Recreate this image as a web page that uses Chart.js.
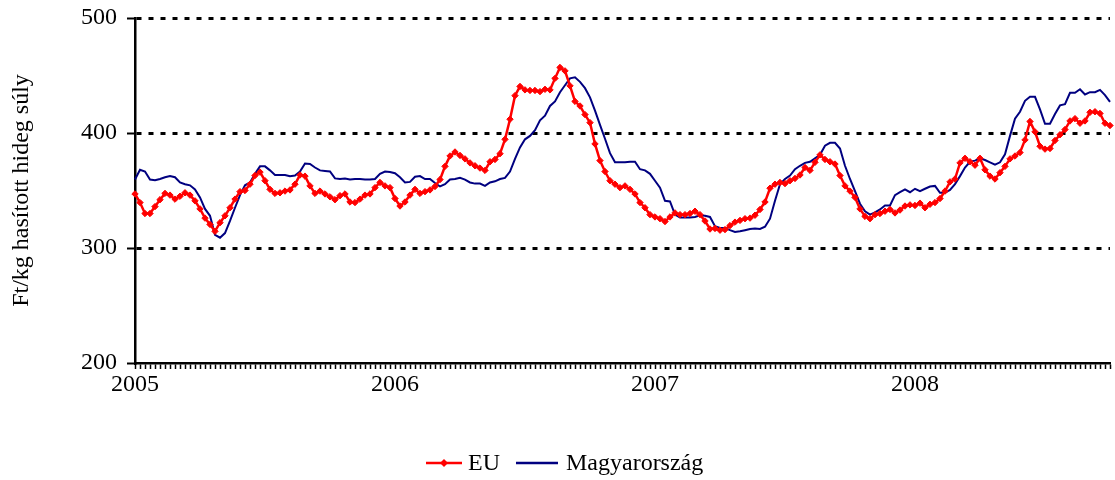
<!DOCTYPE html>
<html>
<head>
<meta charset="utf-8">
<script src="https://cdn.jsdelivr.net/npm/chart.js@4/dist/chart.umd.min.js"></script>
<style>
  html, body { margin: 0; padding: 0; background: #fff; }
  #wrap { width: 1115px; height: 480px; overflow: hidden; }
</style>
</head>
<body>
<div id="wrap"><canvas id="c" width="1115" height="480"></canvas></div>
<script>
const yearLabels = ['2005', '2006', '2007', '2008'];
const weeksPerYear = 52;
const weekCount = 196;
const yTicks = [200, 300, 400, 500];
const yTitle = 'Ft/kg hasított hideg súly';
const seriesNames = ['EU', 'Magyarország'];

const euValues = [
  347, 339.5, 330, 330, 336, 342, 347.5, 346, 342.5, 345,
  348, 346, 341, 334, 326, 320.5, 314.5, 322, 328, 335,
  342.5, 349, 350, 355.5, 363, 366, 358.5, 351, 347.5, 348,
  349.5, 350.5, 355.5, 363.5, 362.5, 354, 347.5, 349.5, 347, 344.5,
  342, 345.5, 347, 340, 339.5, 342.5, 346, 347, 352.5, 357,
  354, 352.5, 343, 336.5, 340, 346, 351, 347.5, 349, 350.5,
  353.5, 359.5, 371, 380, 383.5, 380.5, 377.5, 374, 371.5, 369.5,
  367.5, 375, 377, 382, 394.5, 412, 432.5, 440.5, 437.5, 437,
  437, 436, 438, 437.5, 447.5, 457, 454, 441, 427.5, 423.5,
  416, 409, 390.5, 376, 366.5, 358.5, 355.5, 352.5, 354, 351,
  347, 339.5, 335, 329, 327, 325.5, 323, 327, 330.5, 329,
  329, 330, 332, 329, 323.5, 316.5, 317, 315.5, 316, 319.5,
  322.5, 324, 325.5, 326, 328.5, 333.5, 340, 352, 355.5, 357,
  356, 358.5, 360.5, 363.5, 370, 367.5, 374.5, 381, 377, 375,
  373, 363, 354, 349.5, 344, 334, 327.5, 325.5, 329, 330,
  332, 333.5, 330.5, 333, 336.5, 337.5, 337, 339, 335, 338,
  339.5, 343, 349.5, 357.5, 360, 374, 378, 375, 372, 378,
  368, 362.5, 360, 365.5, 371, 377.5, 380, 383, 394, 410,
  401, 388.5, 386, 386.5, 393.5, 398.5, 403, 410.5, 412.5, 408.5,
  410.5, 418, 418.5, 417, 408.5, 406.5
];

const huValues = [
  359.5, 368, 366.5, 359.5, 359, 360, 361.5, 362.5, 361.5, 357,
  355.5, 354.5, 351, 344, 334, 328, 311.5, 309, 313, 323.5,
  335, 346, 354.5, 357, 364.5, 371, 371, 367.5, 363.5, 363.5,
  363.5, 362.5, 363, 366.5, 373.5, 373, 370, 367.5, 367, 366.5,
  360.5, 360, 360.5, 359.5, 360, 360, 359.5, 359.5, 360, 364.5,
  366.5, 366, 365, 361.5, 357, 357.5, 362, 362.5, 360, 360,
  356.5, 353.5, 355.5, 359.5, 360, 361, 359.5, 357, 356, 356,
  354, 357, 358, 360, 361, 366.5, 377.5, 387.5, 394.5, 397.5,
  402.5, 411, 415, 423.5, 427.5, 435.5, 441.5, 447.5, 448.5, 444.5,
  439, 431, 419.5, 407, 395, 382.5, 374.5, 374.5, 374.5, 375,
  375, 368.5, 367.5, 364.5, 358.5, 352.5, 341, 340.5, 329, 326.5,
  326.5, 326.5, 327, 328.5, 328, 327, 319, 317.5, 317.5, 315.5,
  314, 314.5, 315.5, 316.5, 317, 316.5, 318.5, 325.5, 341, 355.5,
  360, 363, 368.5, 371.5, 374, 375, 378, 381, 389, 391.5,
  391.5, 386.5, 371.5, 360, 349.5, 338.5, 332, 329, 331, 333.5,
  337, 337, 346, 348.5, 351, 348.5, 351.5, 349.5, 351.5, 353.5,
  354, 348, 348, 350.5, 355.5, 362.5, 370, 375, 376, 378,
  376.5, 374.5, 372.5, 374.5, 381.5, 397.5, 412.5, 418.5, 428, 431.5,
  431.5, 420.5, 408, 408, 416.5, 424, 425, 435, 435, 438,
  433.5, 435.5, 435.5, 437.5, 433, 427
];

const categories = [];
for (let i = 0; i < weekCount; i++) {
  const y = yearLabels[Math.floor(i / weeksPerYear)];
  const w = (i % weeksPerYear) + 1;
  categories.push(y + '-' + String(w).padStart(2, '0'));
}

const FONT = '"Liberation Serif", "Times New Roman", serif';
const RED = '#FF0000';
const NAVY = '#000080';

const excelLegend = {
  id: 'excelLegend',
  afterDraw(chart) {
    const ctx = chart.ctx;
    const ds = chart.data.datasets;
    ctx.save();
    ctx.font = '24px ' + FONT;
    ctx.textBaseline = 'middle';
    ctx.textAlign = 'left';
    const cy = 463;
    let x = 426;
    ctx.strokeStyle = ds[0].borderColor;
    ctx.lineWidth = 2.5;
    ctx.beginPath(); ctx.moveTo(x, cy); ctx.lineTo(x + 36, cy); ctx.stroke();
    ctx.fillStyle = ds[0].borderColor;
    ctx.beginPath();
    ctx.moveTo(x + 18, cy - 4); ctx.lineTo(x + 22, cy); ctx.lineTo(x + 18, cy + 4); ctx.lineTo(x + 14, cy);
    ctx.closePath(); ctx.fill();
    x += 42;
    ctx.fillStyle = '#000';
    ctx.fillText(ds[0].label, x, cy + 1);
    x += ctx.measureText(ds[0].label).width + 16;
    ctx.strokeStyle = ds[1].borderColor;
    ctx.lineWidth = 2.5;
    ctx.beginPath(); ctx.moveTo(x, cy); ctx.lineTo(x + 42, cy); ctx.stroke();
    x += 50;
    ctx.fillStyle = '#000';
    ctx.fillText(ds[1].label, x, cy + 1);
    ctx.restore();
  }
};

new Chart(document.getElementById('c'), {
  type: 'line',
  data: {
    labels: categories,
    datasets: [
      {
        label: seriesNames[0],
        data: euValues,
        borderColor: RED,
        backgroundColor: RED,
        borderWidth: 2.5,
        pointStyle: 'rectRot',
        pointRadius: 3.2,
        pointBackgroundColor: RED,
        pointBorderColor: RED,
        pointBorderWidth: 1,
        tension: 0,
        fill: false
      },
      {
        label: seriesNames[1],
        data: huValues,
        borderColor: NAVY,
        backgroundColor: NAVY,
        borderWidth: 2,
        pointRadius: 0,
        tension: 0,
        fill: false
      }
    ]
  },
  options: {
    responsive: false,
    devicePixelRatio: 1,
    animation: false,
    events: [],
    layout: { padding: { top: 18, right: 0, bottom: 0, left: 0 } },
    plugins: {
      legend: { display: false },
      tooltip: { enabled: false }
    },
    scales: {
      x: {
        type: 'category',
        offset: false,
        afterFit(scale) { scale.height = 117; scale.paddingLeft = 0; scale.paddingRight = 0; },
        grid: {
          display: true,
          drawOnChartArea: false,
          drawTicks: true,
          tickLength: 6,
          tickColor: '#000',
          tickWidth: 1.5,
          color: '#000',
          offset: false
        },
        border: { display: true, color: '#000', width: 2.5 },
        ticks: {
          autoSkip: false,
          maxRotation: 0,
          minRotation: 0,
          padding: 1,
          color: '#000',
          font: { family: FONT, size: 24 },
          callback(value, index) {
            return index % weeksPerYear === 0 ? yearLabels[index / weeksPerYear] : '';
          }
        }
      },
      y: {
        min: yTicks[0],
        max: yTicks[yTicks.length - 1],
        afterFit(scale) { scale.width = 135; scale.paddingTop = 0; scale.paddingBottom = 0; },
        afterBuildTicks(scale) { scale.ticks = yTicks.map(v => ({ value: v })); },
        grid: {
          display: true,
          drawOnChartArea: true,
          drawTicks: true,
          tickLength: 8,
          tickColor: '#000',
          tickWidth: 2,
          lineWidth: 3,
          color: (ctx) => (ctx.tick && ctx.tick.value === yTicks[0]) ? 'rgba(0,0,0,0)' : '#000'
        },
        border: { display: true, color: '#000', width: 2.5, dash: [5, 7] },
        ticks: {
          padding: 10,
          color: '#000',
          font: { family: FONT, size: 24 }
        },
        title: {
          display: true,
          text: yTitle,
          color: '#000',
          font: { family: FONT, size: 24 },
          padding: { top: 7, bottom: 0 }
        }
      }
    }
  },
  plugins: [excelLegend]
});
</script>
</body>
</html>
